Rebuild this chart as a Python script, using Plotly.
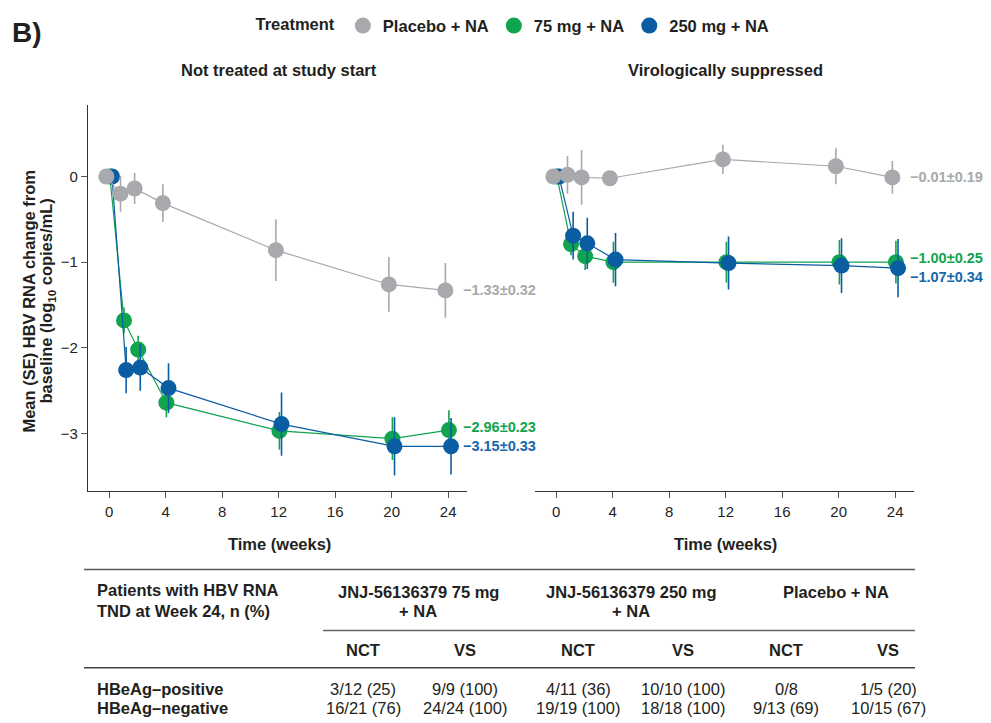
import plotly.graph_objects as go

# ---------------- data ----------------
weeks = [0, 1, 2, 4, 12, 20, 24]
series_names = ["Placebo + NA", "75 mg + NA", "250 mg + NA"]

# Not treated at study start (NCT)
nct_placebo = [0.00, -0.20, -0.14, -0.31, -0.86, -1.26, -1.33]
nct_placebo_se = [0.00, 0.21, 0.18, 0.22, 0.36, 0.32, 0.32]
nct_75 = [0.00, -1.68, -2.02, -2.64, -2.97, -3.06, -2.96]
nct_75_se = [0.00, 0.15, 0.16, 0.17, 0.22, 0.25, 0.23]
nct_250 = [0.00, -2.26, -2.23, -2.47, -2.89, -3.15, -3.15]
nct_250_se = [0.00, 0.27, 0.27, 0.29, 0.37, 0.34, 0.33]

# Virologically suppressed (VS)
vs_placebo = [0.00, 0.02, -0.01, -0.02, 0.20, 0.12, -0.01]
vs_placebo_se = [0.00, 0.22, 0.32, 0.05, 0.17, 0.21, 0.19]
vs_75 = [0.00, -0.79, -0.93, -1.00, -1.00, -1.00, -1.00]
vs_75_se = [0.00, 0.13, 0.16, 0.24, 0.24, 0.26, 0.25]
vs_250 = [0.00, -0.69, -0.78, -0.97, -1.01, -1.04, -1.07]
vs_250_se = [0.00, 0.28, 0.30, 0.31, 0.31, 0.32, 0.34]

x_ticks = [0, 4, 8, 12, 16, 20, 24]
y_ticks = [0, -1, -2, -3]
panel_titles = ["Not treated at study start", "Virologically suppressed"]

# table
table_stub = ["Patients with HBV RNA", "TND at Week 24, n (%)"]
table_groups = [["JNJ-56136379 75 mg", "+ NA"], ["JNJ-56136379 250 mg", "+ NA"], ["Placebo + NA", ""]]
table_subcols = ["NCT", "VS", "NCT", "VS", "NCT", "VS"]
table_rows = ["HBeAg\u2013positive", "HBeAg\u2013negative"]
table_values = [
    ["3/12 (25)", "9/9 (100)", "4/11 (36)", "10/10 (100)", "0/8", "1/5 (20)"],
    ["16/21 (76)", "24/24 (100)", "19/19 (100)", "18/18 (100)", "9/13 (69)", "10/15 (67)"],
]

# ---------------- style ----------------
OFF = 8  # page body margin
W, H = 991 - OFF, 723 - OFF
FONT = "Liberation Sans, Arial, sans-serif"
TXT = "#231f20"
C_GRAY = "#a7a9ac"
C_GREEN = "#10a44e"
C_BLUE = "#0a5ca3"
LBL_COLORS = [C_GRAY, "#10a44e", "#1567ad"]
COLORS = [C_GRAY, C_GREEN, C_BLUE]
DODGE = [-0.2, 0.05, 0.2]


def px(x):
    return (x - OFF) / W


def py(y):
    return 1 - (y - OFF) / H


fig = go.Figure()

panels = [
    ("x", "y", [nct_placebo, nct_75, nct_250], [nct_placebo_se, nct_75_se, nct_250_se], [0, 3, 0]),
    ("x2", "y2", [vs_placebo, vs_75, vs_250], [vs_placebo_se, vs_75_se, vs_250_se], [0, 4, -9]),
]

annotations = []
for xa, ya, means, ses, yshifts in panels:
    # draw order: 75 mg, 250 mg, placebo on top
    for i in [1, 2, 0]:
        xs = [w + DODGE[i] for w in weeks]
        fig.add_trace(go.Scatter(
            x=xs, y=means[i], xaxis=xa, yaxis=ya, mode="lines+markers",
            line=dict(color=COLORS[i], width=1.2),
            marker=dict(color=COLORS[i], size=16, line=dict(width=0)),
            error_y=dict(type="data", array=ses[i], visible=True, color=COLORS[i], thickness=1.6, width=0),
            showlegend=False, hoverinfo="skip",
        ))
    for i in range(3):
        m, s = means[i][-1], ses[i][-1]
        txt = ("\u2212" if m < 0 else "") + f"{abs(m):.2f}\u00b1{s:.2f}"
        annotations.append(dict(
            x=weeks[-1], y=m, xref=xa, yref=ya, text=f"<b>{txt}</b>", showarrow=False,
            xanchor="left", yanchor="middle", xshift=13, yshift=yshifts[i],
            font=dict(family=FONT, size=14.5, color=LBL_COLORS[i]),
        ))

# legend-only traces
for i in range(3):
    fig.add_trace(go.Scatter(
        x=[None], y=[None], mode="markers", name=f"<b>{series_names[i]}</b>",
        marker=dict(color=COLORS[i], size=16), showlegend=True,
    ))

XR = [-1.5, 25.33]
YR = [-3.667, 0.839]
YD = [py(487), py(95)]
axis_common = dict(
    range=XR, tickvals=x_ticks, ticks="outside", ticklen=6, tickwidth=1.2, tickcolor="#555",
    showline=True, linecolor="#333", linewidth=1.3, showgrid=False, zeroline=False,
    tickfont=dict(family=FONT, size=15, color=TXT), ticklabelstandoff=1,
)
fig.update_layout(
    xaxis=dict(axis_common, domain=[px(88), px(467)], anchor="y"),
    xaxis2=dict(axis_common, domain=[px(535), px(914)], anchor="y2"),
    yaxis=dict(range=YR, domain=YD, tickvals=y_ticks, ticks="outside", ticklen=6, tickwidth=1.2,
               tickcolor="#555", showline=True, linecolor="#333", linewidth=1.3, showgrid=False,
               zeroline=False, tickfont=dict(family=FONT, size=15, color=TXT), anchor="x"),
    yaxis2=dict(range=YR, domain=YD, showline=False, showticklabels=False, ticks="", showgrid=False,
                zeroline=False, anchor="x2"),
)

BIG = 16.5
# titles and axis titles
annotations += [
    dict(x=px(10), y=py(22), xref="paper", yref="paper", text="<b>B)</b>", showarrow=False,
         xanchor="left", yanchor="middle", font=dict(family=FONT, size=28, color=TXT)),
    dict(x=px(279), y=py(60), xref="paper", yref="paper", text=f"<b>{panel_titles[0]}</b>",
         showarrow=False, xanchor="center", yanchor="middle", font=dict(family=FONT, size=BIG, color=TXT)),
    dict(x=px(725), y=py(60), xref="paper", yref="paper", text=f"<b>{panel_titles[1]}</b>",
         showarrow=False, xanchor="center", yanchor="middle", font=dict(family=FONT, size=BIG, color=TXT)),
    dict(x=px(279), y=py(541), xref="paper", yref="paper", text="<b>Time (weeks)</b>",
         showarrow=False, xanchor="center", yanchor="middle", font=dict(family=FONT, size=BIG, color=TXT)),
    dict(x=px(725), y=py(541), xref="paper", yref="paper", text="<b>Time (weeks)</b>",
         showarrow=False, xanchor="center", yanchor="middle", font=dict(family=FONT, size=BIG, color=TXT)),
    dict(x=px(29), y=py(295), xref="paper", yref="paper", textangle=-90,
         text="<b>Mean (SE) HBV RNA change from</b>",
         showarrow=False, xanchor="center", yanchor="middle", font=dict(family=FONT, size=16.5, color=TXT)),
    dict(x=px(47), y=py(295), xref="paper", yref="paper", textangle=-90,
         text="<b>baseline (log<sub>10</sub> copies/mL)</b>",
         showarrow=False, xanchor="center", yanchor="middle", font=dict(family=FONT, size=16.5, color=TXT)),
]

# ---------------- table ----------------
TF = dict(family=FONT, size=16.5, color=TXT)
sub_x = [363, 465, 578, 683, 786, 888]
group_x = [418, 631, 836]
annotations.append(dict(x=px(95), y=py(588), xref="paper", yref="paper", text=f"<b>{table_stub[0]}</b>",
                        showarrow=False, xanchor="left", yanchor="middle", font=TF))
annotations.append(dict(x=px(95), y=py(609), xref="paper", yref="paper", text=f"<b>{table_stub[1]}</b>",
                        showarrow=False, xanchor="left", yanchor="middle", font=TF))
for gx, g in zip(group_x, table_groups):
    for ly, t in zip([590, 609], g):
        if t:
            annotations.append(dict(x=px(gx), y=py(ly), xref="paper", yref="paper", text=f"<b>{t}</b>",
                                    showarrow=False, xanchor="center", yanchor="middle", font=TF))
for sx, t in zip(sub_x, table_subcols):
    annotations.append(dict(x=px(sx), y=py(649), xref="paper", yref="paper", text=f"<b>{t}</b>",
                            showarrow=False, xanchor="center", yanchor="middle", font=TF))
for ry, rname, vals in zip([688, 708], table_rows, table_values):
    annotations.append(dict(x=px(95), y=py(ry), xref="paper", yref="paper", text=f"<b>{rname}</b>",
                            showarrow=False, xanchor="left", yanchor="middle", font=TF))
    for sx, v in zip(sub_x, vals):
        annotations.append(dict(x=px(sx), y=py(ry), xref="paper", yref="paper", text=v,
                                showarrow=False, xanchor="center", yanchor="middle", font=TF))

shapes = [
    dict(type="line", xref="paper", yref="paper", x0=px(84), x1=px(915), y0=py(567), y1=py(567),
         line=dict(color="#555", width=1.5)),
    dict(type="line", xref="paper", yref="paper", x0=px(323), x1=px(915), y0=py(629), y1=py(629),
         line=dict(color="#666", width=1.5)),
    dict(type="line", xref="paper", yref="paper", x0=px(84), x1=px(915), y0=py(667), y1=py(667),
         line=dict(color="#444", width=1.5)),
]

fig.update_layout(
    width=W, height=H, margin=dict(l=0, r=0, t=0, b=0),
    paper_bgcolor="white", plot_bgcolor="white",
    annotations=annotations, shapes=shapes,
    legend=dict(orientation="h", x=px(514), xanchor="center", y=py(15), yanchor="middle",
                title=dict(text="<b>Treatment</b>", side="left", font=dict(family=FONT, size=16.5, color=TXT)),
                font=dict(family=FONT, size=16.5, color=TXT), itemwidth=30, bgcolor="rgba(0,0,0,0)",
                tracegroupgap=0),
    font=dict(family=FONT, color=TXT),
)

fig.write_html("out.html")
